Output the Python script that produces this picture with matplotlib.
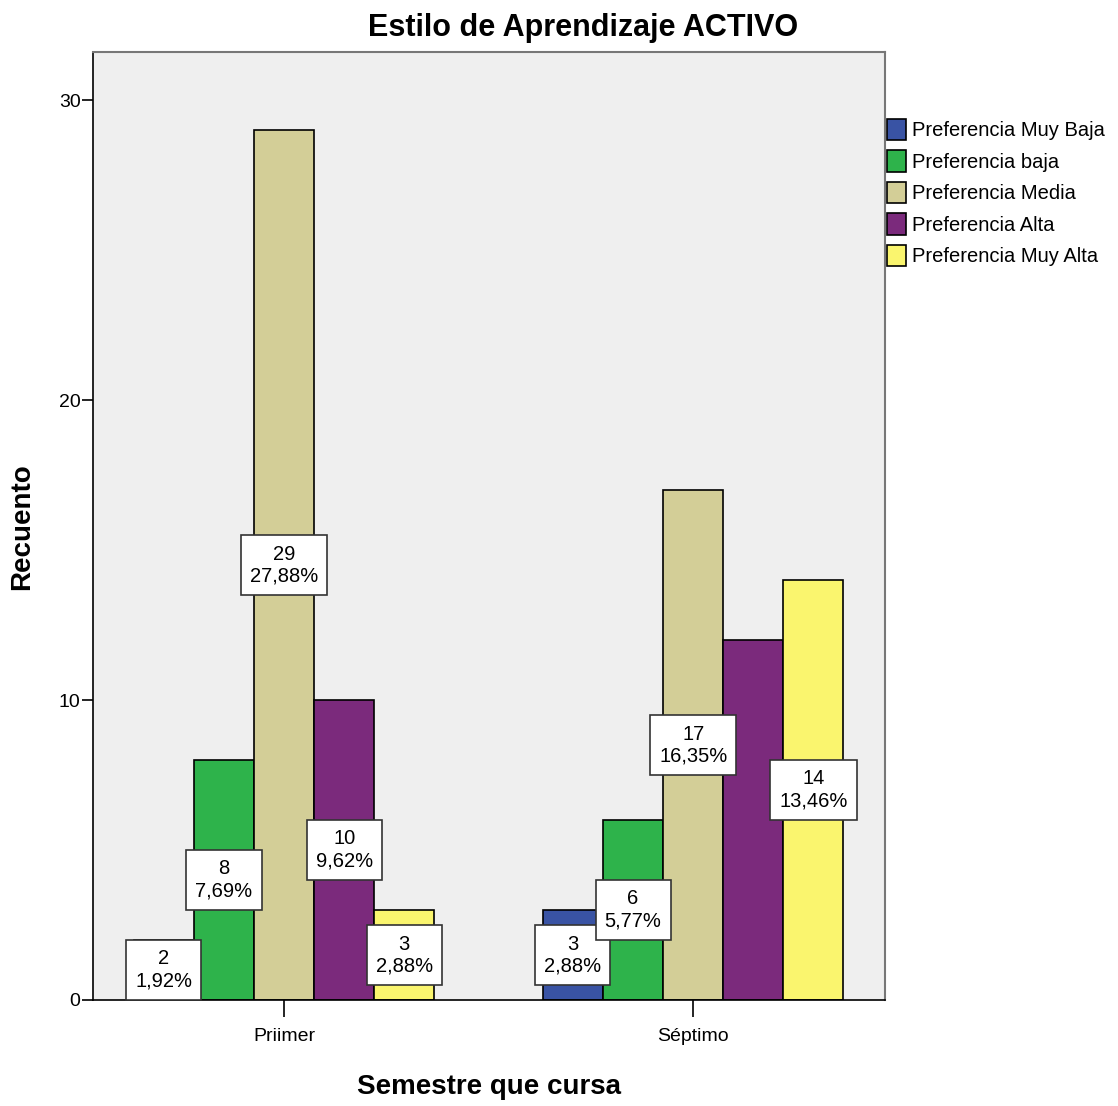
import matplotlib
matplotlib.use("Agg")
import matplotlib.pyplot as plt
import numpy as np

# data
semestres = ["Priimer", "Séptimo"]
categorias = ["Preferencia Muy Baja", "Preferencia baja", "Preferencia Media",
              "Preferencia Alta", "Preferencia Muy Alta"]
recuento = {
    "Priimer": [2, 8, 29, 10, 3],
    "Séptimo": [3, 6, 17, 12, 14],
}
porcentajes = {
    "Priimer": ["1,92%", "7,69%", "27,88%", "9,62%", "2,88%"],
    "Séptimo": ["2,88%", "5,77%", "16,35%", "11,54%", "13,46%"],
}
# Séptimo "Alta" has no visible label in the original
mostrar = {
    "Priimer": [True, True, True, True, True],
    "Séptimo": [True, True, True, False, True],
}
colores = ["#3953A4", "#2EB34B", "#D3CE97", "#7B2A7C", "#FAF56E"]

fuente = ["Liberation Sans Narrow", "Liberation Sans", "DejaVu Sans"]
plt.rcParams["font.family"] = fuente

fig = plt.figure(figsize=(11.18, 11.06), dpi=100)
ax = fig.add_axes([93 / 1118, 1 - 1000 / 1106, 792 / 1118, 948 / 1106])
ax.set_facecolor("#EFEFEF")

ancho = 0.147
x = np.arange(len(semestres))
for i, cat in enumerate(categorias):
    vals = [recuento[s][i] for s in semestres]
    pos = x + (i - 2) * ancho
    ax.bar(pos, vals, width=ancho, color=colores[i], edgecolor="black",
           linewidth=1.2, label=cat, zorder=2)
    for j, s in enumerate(semestres):
        if not mostrar[s][i]:
            continue
        ax.text(pos[j], vals[j] / 2, f"{vals[j]}\n{porcentajes[s][i]}",
                ha="center", va="center", fontsize=14.5, linespacing=1.2,
                zorder=5,
                bbox=dict(boxstyle="square,pad=0.45", facecolor="white",
                          edgecolor="#333333", linewidth=1.2))

ax.set_xlim(-0.467, 1.469)
ax.set_ylim(0, 31.6)
ax.set_yticks([0, 10, 20, 30])
ax.set_xticks(x)
ax.set_xticklabels(semestres)
ax.tick_params(axis="both", labelsize=14, length=8, width=1.2, direction="out")
ax.tick_params(axis="y", pad=1)
ax.tick_params(axis="x", length=12, pad=8)

for side in ["left", "bottom"]:
    ax.spines[side].set_color("black")
    ax.spines[side].set_linewidth(1.2)
for side in ["top", "right"]:
    ax.spines[side].set_color("#777777")
    ax.spines[side].set_linewidth(1.5)

fig.text(22 / 1118, 1 - 527 / 1106, "Recuento", rotation=90,
         ha="center", va="center", fontsize=20, fontweight="bold")
fig.text(489 / 1118, 1 - 1087 / 1106, "Semestre que cursa",
         ha="center", va="center", fontsize=20, fontweight="bold")
fig.text(583 / 1118, 1 - 28 / 1106, "Estilo de Aprendizaje ACTIVO",
         ha="center", va="center", fontsize=22, fontweight="bold")

leg = ax.legend(loc="upper left", frameon=False,
                fontsize=14.5, handlelength=0.95, handleheight=1.25,
                handletextpad=0.3, labelspacing=0.5, borderaxespad=0.0,
                borderpad=0.0)
leg.set_bbox_to_anchor((887 / 1118, 1 - 119 / 1106), transform=fig.transFigure)
for h in leg.legend_handles:
    h.set_edgecolor("black")
    h.set_linewidth(1.2)

fig.savefig("out.png", dpi=100, facecolor="white")
